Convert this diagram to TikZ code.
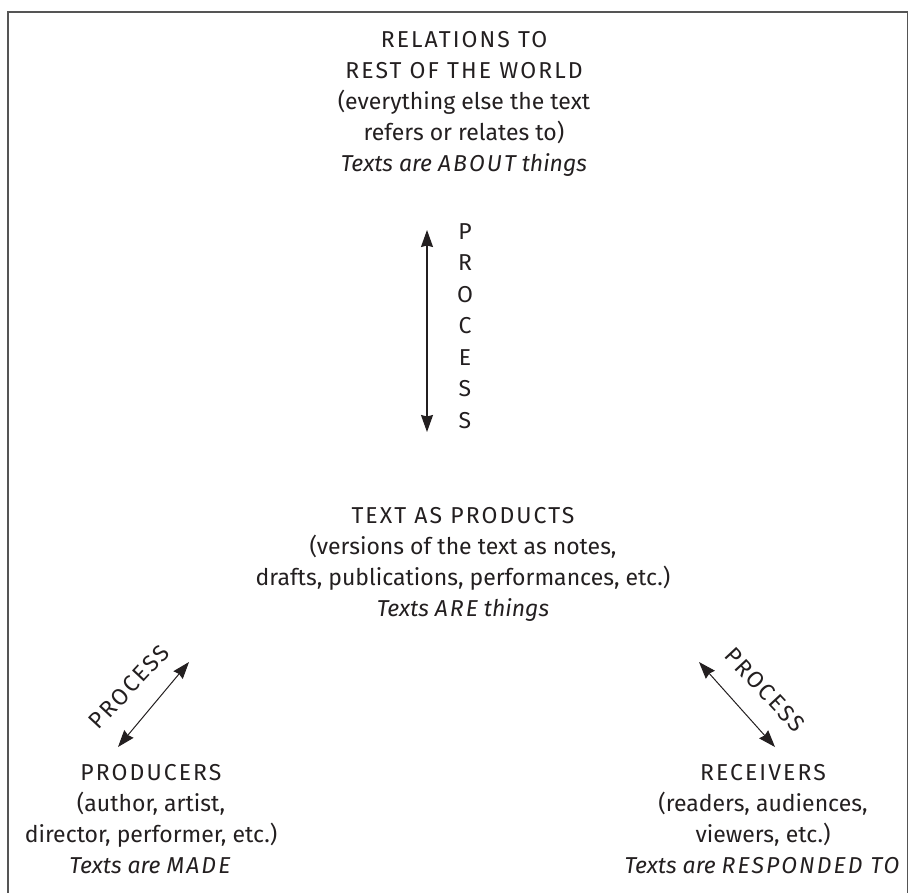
\documentclass[tikz,border=0pt]{standalone}
\usepackage{fontspec}
\setmainfont{Fira Sans}
\usetikzlibrary{arrows.meta}
\definecolor{ink}{HTML}{231F20}
\definecolor{framecol}{HTML}{555555}
\newcommand\spcaps[1]{{\addfontfeature{LetterSpace=9}#1}}
\begin{document}
\begin{tikzpicture}[x=1pt,y=-1pt,
  lab/.style={align=center, font=\fontsize{23}{31}\selectfont, text=ink, inner sep=0pt},
  vlab/.style={align=center, font=\fontsize{23}{31.5}\selectfont, text=ink, inner sep=0pt},
  dlab/.style={font=\fontsize{23}{26}\selectfont, text=ink, inner sep=0pt},
  tipk/.tip={Stealth[length=17pt,width=12pt,inset=1.5pt]},
  arr/.style={tipk-tipk, draw=ink, line width=1.3pt},
  darr/.style={tipk-tipk, draw=ink, line width=1pt},
  framestyle/.style={draw=framecol, line width=1.6pt}]
\useasboundingbox (0,0) rectangle (909,892);
\draw[framestyle] (8,893) -- (8,12) -- (907.5,12) -- (907.5,893);

\node[lab, anchor=north] (world) at (464,31)
  {\spcaps{RELATIONS TO}\\ \spcaps{REST OF THE WORLD}\\ (everything else the text\\ refers or relates to)\\ \textit{Texts are \spcaps{ABOUT} things}};

\coordinate (vtop) at (427,230);
\coordinate (vbot) at (427,432);
\draw[arr] (vtop) -- (vbot);
\node[vlab, anchor=north] (vproc) at (465,223) {P\\R\\O\\C\\E\\S\\S};

\node[lab, anchor=north] (products) at (463,507)
  {\spcaps{TEXT AS PRODUCTS}\\ (versions of the text as notes,\\ drafts, publications, performances, etc.)\\ \textit{Texts \spcaps{ARE} things}};

\coordinate (lt) at (189,662);
\coordinate (lb) at (118,747);
\draw[darr] (lt) -- (lb);
\node[dlab, rotate=47] (lproc) at (129,687) {\spcaps{PROCESS}};

\coordinate (rt) at (699,662);
\coordinate (rb) at (775,747);
\draw[darr] (rt) -- (rb);
\node[dlab, rotate=-47] (rproc) at (765,690) {\spcaps{PROCESS}};

\node[lab, anchor=north] (producers) at (151,764)
  {\spcaps{PRODUCERS}\\ (author, artist,\\ director, performer, etc.)\\ \textit{Texts are \spcaps{MADE}}};

\node[lab, anchor=north] (receivers) at (763,764)
  {\spcaps{RECEIVERS}\\ (readers, audiences,\\ viewers, etc.)\\ \textit{Texts are \spcaps{RESPONDED TO}}};
\end{tikzpicture}
\end{document}
